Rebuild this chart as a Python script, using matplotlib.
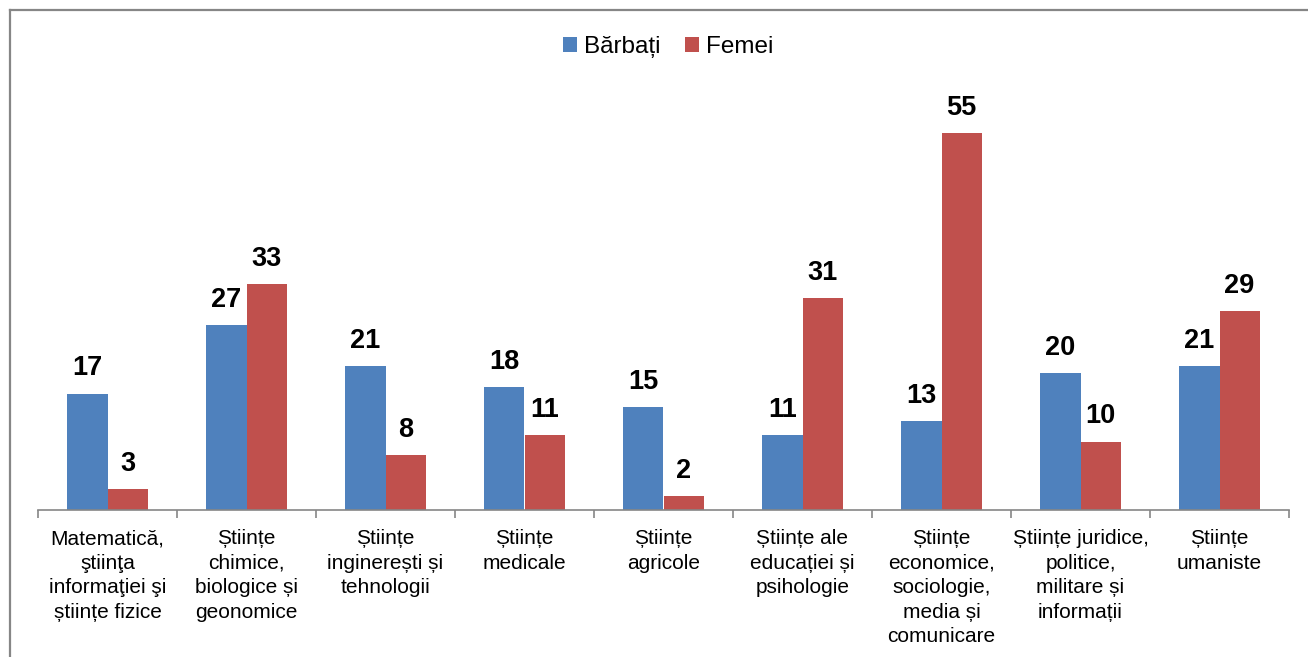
import matplotlib.pyplot as plt
import numpy as np
from matplotlib.lines import Line2D

plt.rcParams['font.family'] = ['Liberation Sans', 'DejaVu Sans']

categories = [
    'Matematică,\nştiinţa\ninformaţiei şi\nștiințe fizice',
    'Științe\nchimice,\nbiologice și\ngeonomice',
    'Științe\ninginerești și\ntehnologii',
    'Științe\nmedicale',
    'Științe\nagricole',
    'Științe ale\neducației și\npsihologie',
    'Științe\neconomice,\nsociologie,\nmedia și\ncomunicare',
    'Științe juridice,\npolitice,\nmilitare și\ninformații',
    'Științe\numaniste',
]
barbati = [17, 27, 21, 18, 15, 11, 13, 20, 21]
femei = [3, 33, 8, 11, 2, 31, 55, 10, 29]
series_names = ['Bărbați', 'Femei']

blue = '#4F81BD'
red = '#C0504D'
grey = '#868686'

W, H = 1308, 657
fig = plt.figure(figsize=(W / 100, H / 100), dpi=100)

# outer chart frame (only top and left edges fall inside the image)
fig.add_artist(Line2D([9.5 / W, 9.5 / W], [0, 1 - 9.5 / H], color=grey, lw=1.6,
                      transform=fig.transFigure))
fig.add_artist(Line2D([9.5 / W, 1], [1 - 9.5 / H, 1 - 9.5 / H], color=grey, lw=1.6,
                      transform=fig.transFigure))

left, right = 38 / W, 1289 / W
bottom = (H - 510) / H
top = (H - 99) / H
ax = fig.add_axes([left, bottom, right - left, top - bottom])

x = np.arange(len(categories))
bw = 0.288
b1 = ax.bar(x - bw / 2, barbati, bw, color=blue, label=series_names[0])
b2 = ax.bar(x + bw / 2, femei, bw, color=red, label=series_names[1])

for bars, vals in ((b1, barbati), (b2, femei)):
    for rect, v in zip(bars, vals):
        ax.annotate(str(v), (rect.get_x() + rect.get_width() / 2, v),
                    xytext=(0, 13), textcoords='offset points',
                    ha='center', va='baseline', fontsize=19.5, fontweight='bold')

ax.set_xlim(-0.5, len(categories) - 0.5)
ax.set_ylim(0, 60)

for s in ('top', 'right', 'left'):
    ax.spines[s].set_visible(False)
ax.spines['bottom'].set_color(grey)
ax.spines['bottom'].set_linewidth(1.2)
ax.set_yticks([])

# tick marks between categories, labels at category centres
ax.set_xticks(np.arange(len(categories) + 1) - 0.5)
ax.set_xticklabels([])
ax.tick_params(axis='x', which='major', direction='out', length=6, color=grey, width=1.2)
ax.set_xticks(x, minor=True)
ax.set_xticklabels(categories, minor=True, fontsize=15, linespacing=1.36)
ax.tick_params(axis='x', which='minor', length=0, pad=14)

fig.legend(handles=[b1, b2], labels=series_names, loc='center',
           bbox_to_anchor=(668 / W, 1 - 47 / H), ncol=2, frameon=False,
           fontsize=17.5, handlelength=0.58, handleheight=0.58,
           handletextpad=0.3, columnspacing=1.0)

fig.savefig('out.png', dpi=100)
